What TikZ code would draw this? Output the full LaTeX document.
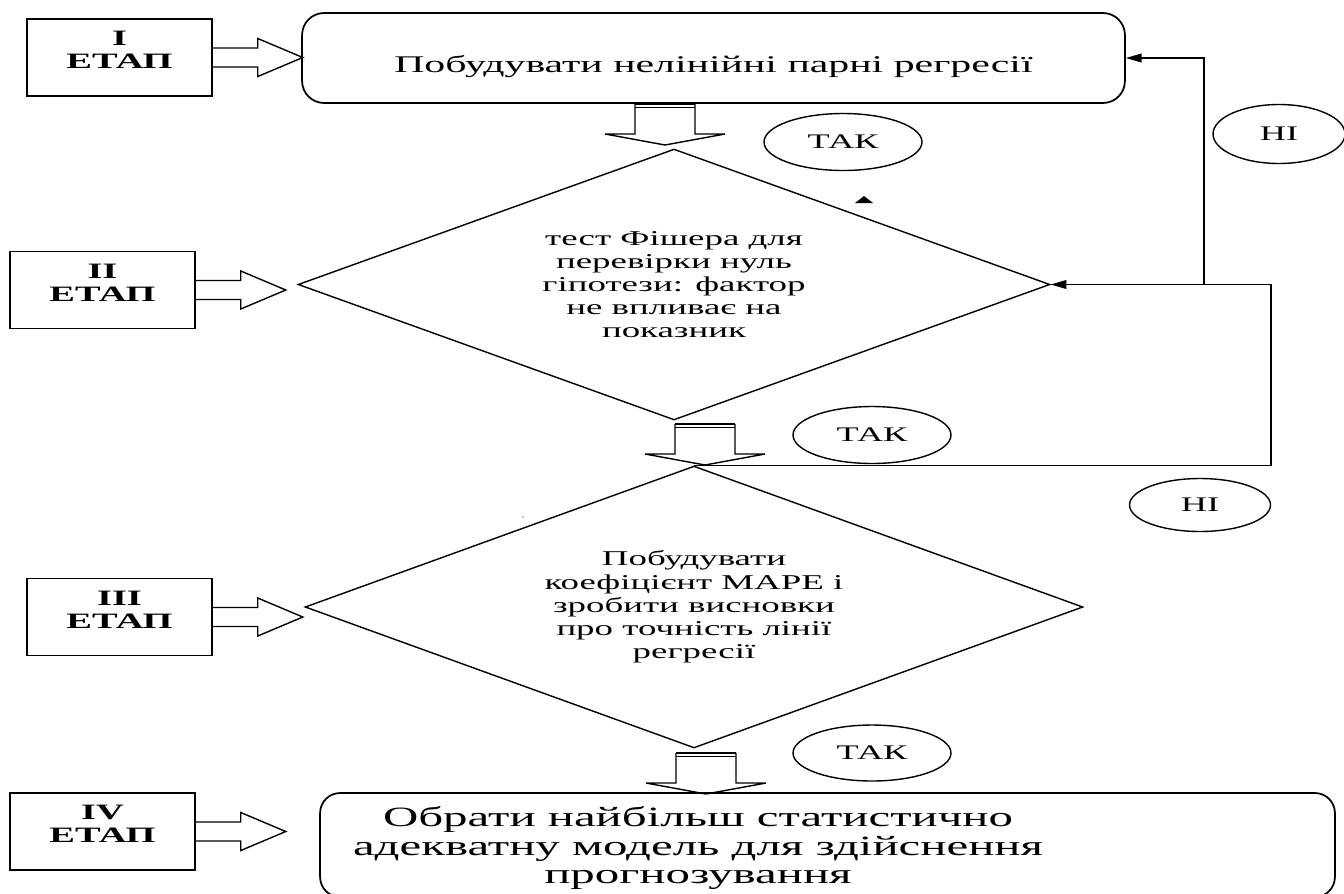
\documentclass[tikz,border=0pt]{standalone}
\usepackage{fontspec}
\setmainfont{Liberation Serif}[FakeStretch=1.75]
\usepackage{tikz}
\usetikzlibrary{shapes.geometric, arrows.meta, positioning, calc}
\tikzset{
    stage_box/.style={rectangle, draw, line width=0.9pt, minimum width=3.7cm, minimum height=1.54cm, inner sep=0pt},
    stage_text/.style={anchor=north, align=center, inner sep=0pt, font=\fontsize{12.5}{13}\selectfont\bfseries},
    block_round/.style={rectangle, draw, line width=1pt, rounded corners=0.44cm, align=center},
    block_diamond/.style={diamond, draw, line width=0.8pt, aspect=2.8, inner sep=0pt, align=center, font=\fontsize{12}{13.2}\selectfont},
    answer/.style={ellipse, draw, line width=0.8pt, inner sep=0pt, font=\fontsize{11.8}{13}\selectfont},
    arrow/.style={-{Triangle[length=9pt,width=5pt]}, line width=0.8pt},
    fat_right/.pic={
        \draw[line width=0.8pt] (0,-9.5) -- (45,-9.5) -- (45,-19) -- (90,0) -- (45,19) -- (45,9.5) -- (0,9.5);
    },
    fat_down/.pic={
        \draw[line width=0.8pt] (-30,0) -- (-30,30) -- (-60,30) -- (0,41) -- (60,30) -- (30,30) -- (30,0);
        \draw[line width=1.2pt] (-30,0) -- (30,0);
        \draw[line width=0.6pt] (-30,3.5) -- (30,3.5);
    }
}

\begin{document}
\begin{tikzpicture}[x=0.02cm, y=-0.02cm]
    \useasboundingbox (0,0) rectangle (1344,893);

    % stages
    \node (s1) [stage_box] at (119.5,57.5) {};
    \node (s2) [stage_box] at (102.5,290) {};
    \node (s3) [stage_box] at (119.5,617) {};
    \node (s4) [stage_box] at (102.5,831.5) {};
    \node (s1t) [stage_text] at ($(s1.north)+(0,13)$) {I\\ЕТАП};
    \node (s2t) [stage_text] at ($(s2.north)+(0,13)$) {II\\ЕТАП};
    \node (s3t) [stage_text] at ($(s3.north)+(0,13)$) {III\\ЕТАП};
    \node (s4t) [stage_text] at ($(s4.north)+(0,13)$) {IV\\ЕТАП};

    % steps
    \node (top) [block_round, minimum width=16.46cm, minimum height=1.8cm, text height=19pt, text depth=3pt, font=\fontsize{13.6}{15}\selectfont] at (713.5,58) {Побудувати нелінійні парні регресії};
    \node (d2) [block_diamond, minimum width=15.04cm, minimum height=5.42cm] at (674,284.5) {тест Фішера для\\перевірки нуль\\гіпотези: фактор\\не впливає на\\показник};
    \node (d3) [block_diamond, minimum width=15.56cm, minimum height=5.64cm] at (694,607) {Побудувати\\коефіцієнт МАРЕ і\\зробити висновки\\про точність лінії\\регресії};
    \node (bot) [block_round, minimum width=20.3cm, minimum height=2.08cm, rounded corners=0.4cm] at (827.5,845) {};
    \node (bott) [align=center, inner sep=0pt, font=\fontsize{15.9}{16}\selectfont] at (698,848) {Обрати найбільш статистично\\адекватну модель для здійснення\\прогнозування};

    % answers
    \node (yes1) [answer, minimum width=3.16cm, minimum height=1.14cm] at (843,142) {ТАК};
    \node (yes2) [answer, minimum width=3.16cm, minimum height=1.14cm] at (872,435) {ТАК};
    \node (yes3) [answer, minimum width=3.16cm, minimum height=1.12cm] at (872,753) {ТАК};
    \node (no1) [answer, minimum width=2.64cm, minimum height=1.18cm] at (1279,134) {НІ};
    \node (no2) [answer, minimum width=2.82cm, minimum height=1.06cm] at (1200,505) {НІ};

    % block arrows
    \pic at (s1.east) {fat_right};
    \pic at (s2.east) {fat_right};
    \pic at (s3.east) {fat_right};
    \pic at (s4.east) {fat_right};
    \pic at (665,104) {fat_down};
    \pic at (705,424) {fat_down};
    \pic at (706,753) {fat_down};

    % loops back
    \coordinate (r1) at (1271,284.5);
    \coordinate (j1) at (1204,284.5);
    \draw [arrow] (d3.north) -| (r1) -- (d2.east);
    \draw [arrow] (j1) |- (top.east);

    \fill (855,203) -- (873,203) -- (864,196) -- cycle;
    \fill (523,517) circle (0.7);
\end{tikzpicture}
\end{document}
